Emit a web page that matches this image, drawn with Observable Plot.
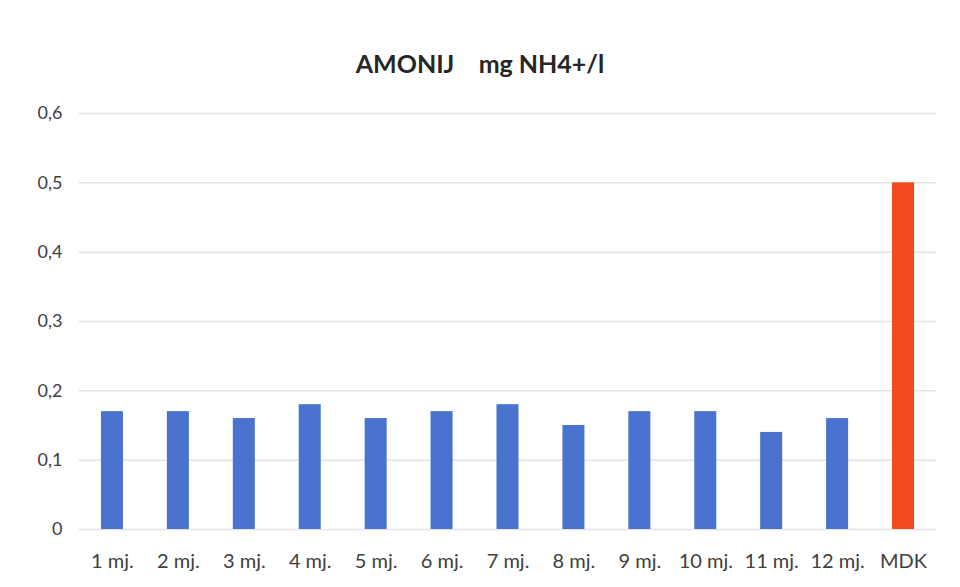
<!DOCTYPE html>
<html>
<head>
<meta charset="utf-8">
<script src="https://cdn.jsdelivr.net/npm/d3@7"></script>
<script src="https://cdn.jsdelivr.net/npm/@observablehq/plot@0.6"></script>
<style>
  html, body { margin: 0; padding: 0; background: #fff; }
  #title { height: 95px; box-sizing: border-box; padding-top: 47px; text-align: center; font-family: Lato, "Open Sans", sans-serif; font-weight: bold; font-size: 25px; color: #262626; white-space: pre; line-height: 32px; }
</style>
</head>
<body>
<div id="title">AMONIJ    mg NH4+/l</div>
<div id="chart"></div>
<script>
const categories = ["1 mj.", "2 mj.", "3 mj.", "4 mj.", "5 mj.", "6 mj.", "7 mj.", "8 mj.", "9 mj.", "10 mj.", "11 mj.", "12 mj.", "MDK"];
const values = [0.17, 0.17, 0.16, 0.18, 0.16, 0.17, 0.18, 0.15, 0.17, 0.17, 0.14, 0.16, 0.5];
const barColors = ["#4A72CF", "#4A72CF", "#4A72CF", "#4A72CF", "#4A72CF", "#4A72CF", "#4A72CF", "#4A72CF", "#4A72CF", "#4A72CF", "#4A72CF", "#4A72CF", "#F24A1E"];
const yTicks = [0, 0.1, 0.2, 0.3, 0.4, 0.5, 0.6];

const data = categories.map((c, i) => ({cat: c, value: values[i], color: barColors[i]}));
const fmt = d => String(d).replace(".", ",");

const chart = Plot.plot({
  width: 960,
  height: 492,
  marginLeft: 79,
  marginRight: 24,
  marginTop: 18,
  marginBottom: 58,
  style: {fontFamily: "Lato, 'Open Sans', sans-serif", fontSize: "18px", color: "#404040", background: "#fff"},
  x: {domain: categories, paddingInner: 0.666, paddingOuter: 0.333, round: false, label: null, tickSize: 0, tickPadding: 24},
  y: {domain: [0, 0.6], ticks: yTicks, tickFormat: fmt, label: null, tickSize: 0, tickPadding: 17},
  marks: [
    Plot.ruleY(yTicks, {stroke: "#e4e4e4", strokeWidth: 1.5}),
    Plot.barY(data, {x: "cat", y: "value", fill: "color"}),
    Plot.axisX({tickSize: 0, tickPadding: 24, label: null, fontSize: 20}),
    Plot.axisY({ticks: yTicks, tickFormat: fmt, tickSize: 0, tickPadding: 17, label: null})
  ]
});
document.getElementById("chart").appendChild(chart);
</script>
</body>
</html>
